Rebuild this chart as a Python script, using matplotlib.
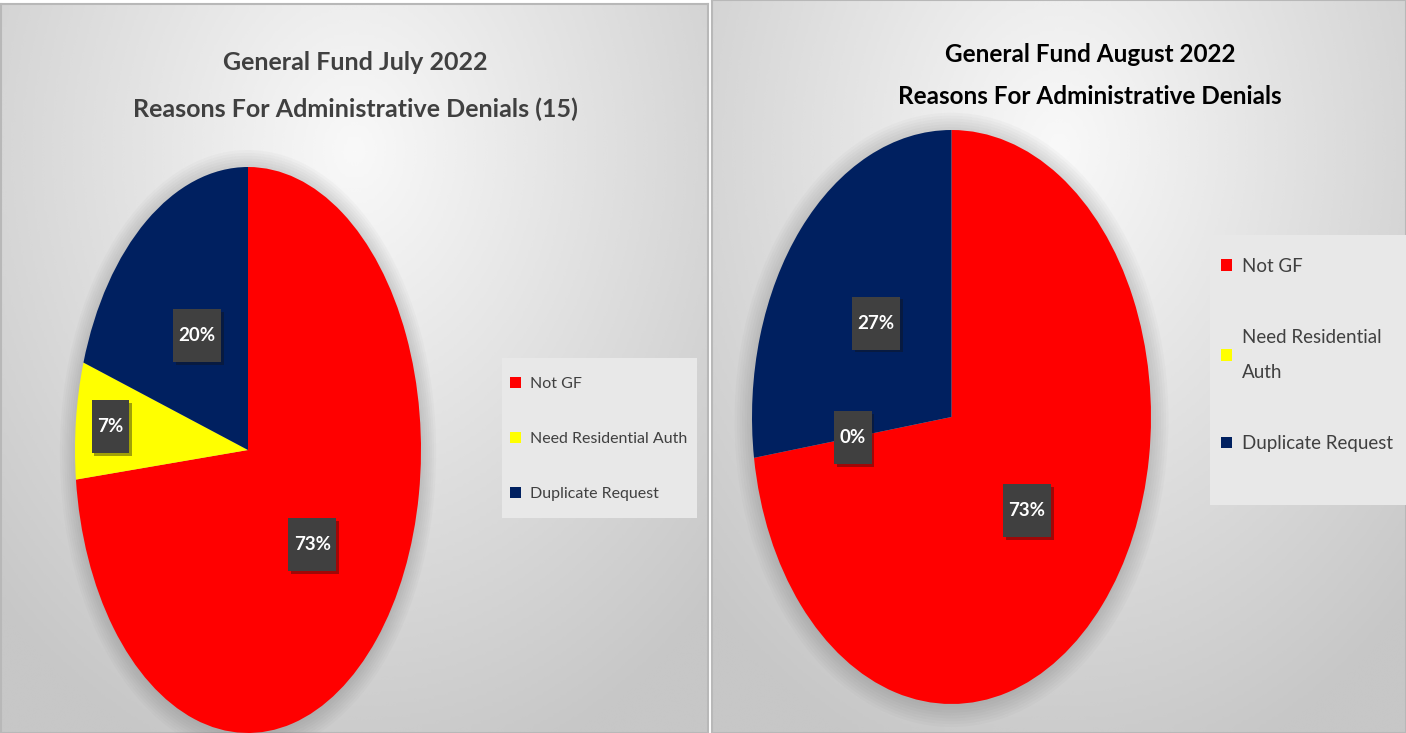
import numpy as np
import matplotlib.pyplot as plt
from matplotlib.patches import Rectangle, Ellipse
import matplotlib.patheffects as pe

plt.rcParams['font.family'] = ['DejaVu Sans Condensed', 'Liberation Sans Narrow', 'Lato']

# data
reasons = ['Not GF', 'Need Residential Auth', 'Duplicate Request']
aug_reasons = ['Not GF', 'Need Residential\nAuth', 'Duplicate Request']
july_counts = [11, 1, 3]
aug_counts = [8, 0, 3]
slice_colors = ['#ff0000', '#ffff00', '#002060']
july_title = 'General Fund July 2022\nReasons For Administrative Denials (15)'
aug_title = 'General Fund August 2022\nReasons For Administrative Denials'

W, H = 1406, 733
fig = plt.figure(figsize=(W / 100, H / 100), dpi=100)


def px_axes(x0, y0, x1, y1):
    # box in pixels, y counted from the top
    return fig.add_axes([x0 / W, 1 - y1 / H, (x1 - x0) / W, (y1 - y0) / H])


def panel_bg(x0, y0, x1, y1):
    ax = px_axes(x0, y0, x1, y1)
    yy, xx = np.mgrid[0:1:200j, 0:1:300j]
    d = np.sqrt(((xx - 0.5) / 0.8) ** 2 + ((yy - 0.2) / 1.0) ** 2)
    img = np.clip(0.975 - 0.22 * d, 0.78, 1)
    ax.imshow(img, cmap='gray', vmin=0, vmax=1, aspect='auto',
              interpolation='bicubic', extent=(0, 1, 0, 1))
    ax.set_xticks([])
    ax.set_yticks([])
    for s in ax.spines.values():
        s.set_color('#b8b8b8')
        s.set_linewidth(1.5)
    return ax


def draw_pie(counts, box, label_r):
    ax = px_axes(*box)
    # soft shadow under the pie
    for k in range(8):
        ax.add_patch(Ellipse((0.0, -0.01), 2 + 0.025 * k, 2 + 0.02 * k,
                             fc='#606060', ec='none', alpha=0.035, zorder=0,
                             clip_on=False))
    wedges, _, pcts = ax.pie(counts, colors=slice_colors, startangle=90,
                             counterclock=False, autopct='%.0f%%',
                             pctdistance=0.5, radius=1,
                             textprops=dict(color='white', fontsize=13.5,
                                            fontweight='bold'))
    ax.set_aspect('auto')
    ax.set_xlim(-1, 1)
    ax.set_ylim(-1, 1)
    for w in wedges:
        w.set_clip_on(False)
    for w, t, r in zip(wedges, pcts, label_r):
        a = np.deg2rad((w.theta1 + w.theta2) / 2)
        t.set_position((r * np.cos(a), r * np.sin(a)))
        t.set_bbox(dict(boxstyle='square,pad=0.3', fc='#404040', ec='none',
                        mutation_aspect=3.2))
        t.get_bbox_patch().set_path_effects(
            [pe.SimplePatchShadow(offset=(2, -2), alpha=0.4), pe.Normal()])
    return wedges


# panels
panel_bg(1, 4, 708, 733)
panel_bg(712, 0, 1406, 733)

# left chart
fig.text(355 / W, 1 - 86 / H, july_title, ha='center', va='center',
         fontsize=18, fontweight='bold', color='#404040', linespacing=2.25)
jw = draw_pie(july_counts, (75, 167, 421, 733), [0.5, 0.8, 0.5])
fig.patches.append(Rectangle((502 / W, 1 - 518 / H), 195 / W, 160 / H,
                             transform=fig.transFigure, fc='#e8e8e8',
                             ec='none', zorder=1))
fig.legend(jw, reasons, loc='upper left',
           bbox_to_anchor=(496 / W, 1 - 363 / H), bbox_transform=fig.transFigure,
           frameon=False, fontsize=11.5, labelcolor='#404040',
           handlelength=0.65, handleheight=0.65, handletextpad=0.55,
           labelspacing=2.55)

# right chart
fig.text(1090 / W, 1 - 76 / H, aug_title, ha='center', va='center',
         fontsize=17.5, fontweight='bold', color='black', linespacing=2.0)
aw = draw_pie(aug_counts, (752, 130, 1151, 704), [0.5, 0.5, 0.5])
fig.patches.append(Rectangle((1210 / W, 1 - 505 / H), 196 / W, 270 / H,
                             transform=fig.transFigure, fc='#e8e8e8',
                             ec='none', zorder=1))
leg = fig.legend(aw, aug_reasons, loc='upper left',
                 bbox_to_anchor=(1204 / W, 1 - 241 / H),
                 bbox_transform=fig.transFigure,
                 frameon=False, fontsize=13.5, labelcolor='#404040',
                 handlelength=0.6, handleheight=0.6, handletextpad=0.5,
                 labelspacing=2.9)
for t in leg.get_texts():
    t.set_linespacing(2.25)

fig.savefig('out.png', dpi=100)
